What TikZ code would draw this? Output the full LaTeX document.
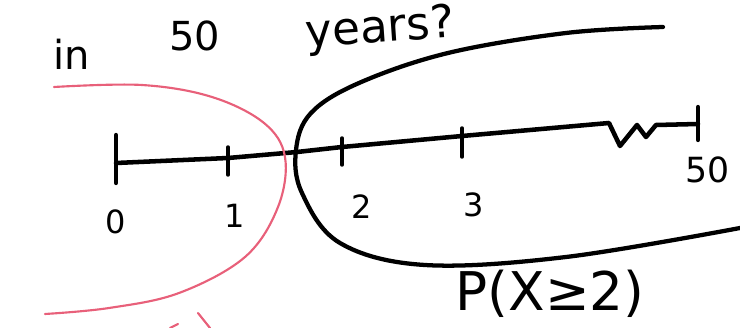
\documentclass[tikz,border=0pt]{standalone}
\usepackage{fontspec}
\setmainfont{DejaVu Sans}
\definecolor{mPink}{HTML}{E8607A}
\usetikzlibrary{positioning}

\begin{document}
\begin{tikzpicture}[x=0.75pt, y=-0.75pt, line cap=round, line join=round]
\useasboundingbox (0,0) rectangle (740,328);
% title
\node[font=\fontsize{30}{32}\selectfont, inner sep=1pt] (in) at (72,54) {in};
\node[font=\fontsize{30}{32}\selectfont, inner sep=1pt] (fifty) at (195,36) {50};
\node[font=\fontsize{34}{36}\selectfont, inner sep=1pt, rotate=4] (years) at (380,30) {years?};
% number line
\draw[line width=3.4pt] (116,163) -- (228,158) -- (297,152) -- (342,147) -- (462,136) -- (609,123) -- (620,146) -- (637,125) -- (646,137) -- (656,125) -- (698,124);
\draw[line width=3.2pt] (116,135) -- (116,183);
\draw[line width=2.6pt] (228,147) -- (228,175) (342,138) -- (342,165) (462,128) -- (462,157);
\draw[line width=3.2pt] (698,107) -- (698,140);
\node[font=\fontsize{24}{26}\selectfont] (n0) at (116,222) {0};
\node[font=\fontsize{24}{26}\selectfont] (n1) at (235,216) {1};
\node[font=\fontsize{24}{26}\selectfont] (n2) at (362,207) {2};
\node[font=\fontsize{24}{26}\selectfont] (n3) at (474,205) {3};
\node[font=\fontsize{26}{28}\selectfont] (n50) at (708,170) {50};
% regions
\draw[mPink, line width=1.6pt] plot[smooth, tension=0.6] coordinates {(54,87) (142,85) (212,97) (264,123) (285,157) (278,207) (245,257) (179,293) (109,308) (45,314)};
\draw[line width=3.2pt] plot[smooth, tension=0.6] coordinates {(663,27) (566,33) (448,53) (359,83) (311,113) (296,150) (302,193) (340,243) (425,265) (566,257) (740,228)};
\draw[mPink, line width=1.6pt] (198,313) -- (210,328) (170,328) -- (178,324);
\node[font=\fontsize{40}{42}\selectfont] (prob) at (550,294) {P(X≥2)};
\end{tikzpicture}
\end{document}
